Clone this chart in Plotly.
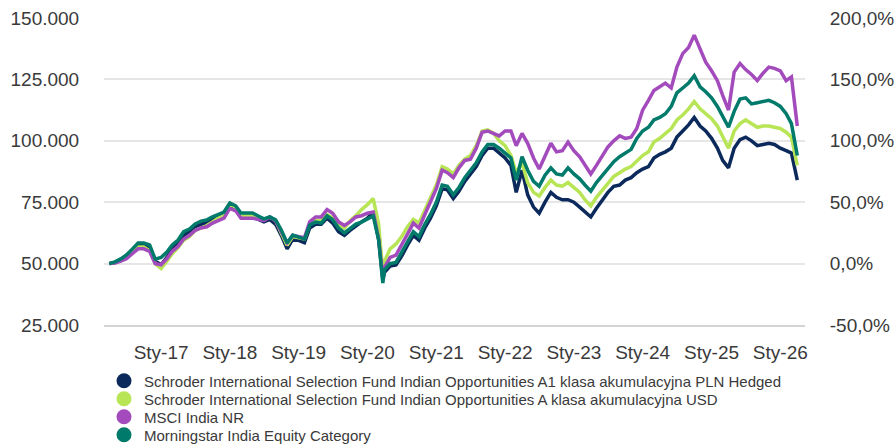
import pandas as pd
import plotly.graph_objects as go

# Monthly observations (values in thousands), Apr 2016 .. Apr 2026, plus the COVID low (2020-03-23)
months = list(pd.date_range("2016-04-01", "2026-04-01", freq="MS"))
crash_date = pd.Timestamp("2020-03-23")
dates = months[:48] + [crash_date] + months[48:]

tick_dates = [f"{y}-01-01" for y in range(2017, 2027)]
tick_text = [f"Sty-{str(y)[2:]}" for y in range(2017, 2027)]

names = [
    "Schroder International Selection Fund Indian Opportunities A1 klasa akumulacyjna PLN Hedged",
    "Schroder International Selection Fund Indian Opportunities A klasa akumulacyjna USD",
    "MSCI India NR",
    "Morningstar India Equity Category",
]
colors = ["#0b2a5b", "#b8e556", "#a34bbd", "#007a6a"]

navy_k = [
    50, 50.5, 51.5, 53, 55.5, 57.5, 57.5, 56, 51, 49.5,
    52.5, 56, 58.5, 61.5, 63, 65, 66, 66.5, 68, 69.5,
    70, 74, 72.5, 69.5, 69.5, 69, 68, 67, 68, 66,
    61.5, 56, 60, 59.5, 58.5, 64.5, 66, 66, 68.5, 66.5,
    63, 61.5, 63.5, 65.5, 67, 68.5, 71, 60,
    43.5,
    46.5, 49, 49.5, 53, 57.5, 61.5, 59.5, 64.5, 68.5, 73.5,
    80.5, 80, 76.5, 79.5, 83.5, 86.5, 89.5, 94, 97, 97,
    95, 93, 90, 79,
    88, 78, 73, 70.5, 75, 79, 77, 76, 76, 75,
    73, 71, 69, 72.5, 76, 79, 81.5, 82, 84, 85,
    87, 88.5, 89.5, 93, 94.5, 95.5, 97, 101.5, 104, 106.5,
    109.5, 106, 104, 101, 97, 92, 89, 97, 100.5, 101.5,
    100, 98, 98.5, 99, 98.5, 97, 96, 95, 84,
]
lime_k = [
    50, 50.3, 51.3, 52.8, 54.8, 56.8, 56.8, 55.3, 50, 48,
    51, 54, 56.5, 59.5, 61, 63.5, 64.5, 65.5, 67, 68.5,
    69.5, 74, 73, 69.5, 69.5, 69.5, 68.5, 68, 69, 67.5,
    62.5, 57.5, 61, 60.5, 60, 66, 67.5, 67.5, 70, 68.5,
    65.5, 64.5, 67.5, 69.5, 72, 74, 76.5, 66,
    46.5,
    51, 56, 58, 61, 65, 68, 66.5, 71.5, 77, 82,
    89.5, 88.5, 86.5, 90, 92.5, 94, 98, 104, 104.5, 103,
    100, 98, 94, 87,
    91, 83, 79, 77.5, 81, 84, 82, 81.5, 83, 81,
    79, 76, 73.5, 77, 80, 83, 85.5, 87, 88.5, 89.5,
    91.5, 94, 95.5, 99.5, 101, 103, 105, 108.5, 110.5, 113,
    116, 113, 111, 109, 106, 101.5, 97, 104, 107, 108.5,
    107, 105.5, 106, 106, 105.5, 105, 103.5, 101.5, 90,
]
msci_k = [
    50, 50.2, 51, 52, 54, 56, 56, 55, 50, 49.5,
    52, 55, 57, 60, 61.5, 63.5, 64.5, 65, 66.5, 67.5,
    68.5, 72.5, 71.5, 68.5, 68.5, 68.5, 68, 67.5, 69, 67.5,
    63, 58.5, 61.5, 61, 60.5, 67, 69, 69, 72, 70.5,
    67, 65.5, 67, 69, 69.5, 70.5, 71, 60,
    44.5,
    48.5, 52.5, 53.5, 57.5, 62, 66.5, 64.5, 70, 75, 80.5,
    88, 87, 85, 89, 92, 92.5, 97, 103.5, 104, 103,
    102, 104, 104, 98,
    103, 99, 93, 88.5, 94, 99, 95.5, 96, 99.5, 96,
    93.5, 90, 86.5, 90, 93.5, 97.5, 100, 102, 101, 101.5,
    105, 112.5, 116.5, 120.5, 122, 123.5, 121.5, 130, 135.5, 138,
    143, 137, 132, 128.5, 124.5, 118.5, 112.5, 128, 131.5, 129,
    127, 124.5, 127.5, 130, 129.5, 128.5, 124.5, 126, 106,
]
category_k = [
    50, 50.7, 51.9, 53.5, 55.9, 58.4, 58.4, 57.6, 51.8, 52.5,
    54.7, 57.6, 59.6, 63.0, 64.1, 66.1, 67.3, 67.8, 69.0, 70.2,
    71.0, 74.7, 73.5, 70.6, 70.6, 70.6, 69.4, 68.2, 69.0, 67.8,
    63.7, 58.4, 61.6, 60.8, 60.0, 65.7, 66.9, 66.5, 69.4, 67.8,
    64.5, 62.5, 64.5, 66.1, 66.9, 68.2, 69.4, 59.6,
    42.1,
    47.5, 50, 50.5, 54.5, 59, 63, 61, 66, 70, 75,
    82, 81.5, 78, 81, 85, 88, 91, 95.5, 98.5, 98.5,
    97, 95, 93, 84,
    93.5, 88, 83.5, 81.5, 86, 89, 86.5, 86, 89, 86.5,
    84.5, 82, 79.5, 83, 86, 88.5, 91.5, 93.5, 95, 96.5,
    101, 104, 105.5, 108.5, 109.5, 111, 114, 119.5, 121.5, 123.5,
    126.5, 122, 120, 117.5, 114, 110, 105.5, 112, 117, 117.5,
    115, 115.5, 116, 116.5, 115.5, 114, 111, 107, 94,
]
series_k = [navy_k, lime_k, msci_k, category_k]

left_ticks = [25000, 50000, 75000, 100000, 125000, 150000]
right_ticks = [-0.5, 0.0, 0.5, 1.0, 1.5, 2.0]
right_text = ["-50,0%", "0,0%", "50,0%", "100,0%", "150,0%", "200,0%"]

FONT = "Liberation Sans, Arial, sans-serif"
TXT = "#3a3a3a"

W, H = 895, 445
ML, MR, MT, MB = 104, 90, 18, 120
plot_h = H - MT - MB
legend_rows_px = [381, 399, 417, 435]  # centre of each legend row, pixels from top
legend_ids = ["legend", "legend2", "legend3", "legend4"]

fig = go.Figure()
for name, col, vals in zip(names, colors, series_k):
    fig.add_trace(go.Scatter(
        x=dates, y=[v * 1000 for v in vals], mode="lines", name=name,
        line=dict(color=col, width=3.5), showlegend=False,
    ))
# legend entries as round dots, one legend per row for tight spacing
for name, col, lid in zip(names, colors, legend_ids):
    fig.add_trace(go.Scatter(
        x=[None], y=[None], mode="markers", name=name, legend=lid,
        marker=dict(color=col, size=15, symbol="circle"),
    ))
# invisible trace carrying the right (percentage) axis
fig.add_trace(go.Scatter(
    x=dates, y=[v * 1000 / 50000 - 1 for v in navy_k], yaxis="y2",
    mode="lines", line=dict(width=0), opacity=0, showlegend=False, hoverinfo="skip",
))

legend_common = dict(
    x=0.0, xanchor="left", yanchor="middle", orientation="v",
    font=dict(size=15, color=TXT), itemsizing="trace",
    bgcolor="rgba(0,0,0,0)", itemwidth=30,
)
legend_layout = {}
for lid, py in zip(legend_ids, legend_rows_px):
    legend_layout[lid] = dict(legend_common, y=(H - MB - py) / plot_h)

fig.update_layout(
    width=W, height=H,
    margin=dict(l=ML, r=MR, t=MT, b=MB, autoexpand=False),
    paper_bgcolor="white", plot_bgcolor="white",
    separators=",.",
    font=dict(family=FONT, color=TXT, size=14),
    showlegend=True,
    xaxis=dict(
        type="date", range=["2016-03-04", "2026-05-12"],
        tickvals=tick_dates, ticktext=tick_text,
        showgrid=False, zeroline=False,
        showline=True, linecolor="#d4d4d4", linewidth=2,
        ticks="outside", ticklen=0, ticklabelstandoff=9,
        ticklabeloverflow="allow",
        tickfont=dict(size=19, color=TXT),
    ),
    yaxis=dict(
        range=[25000, 150000], tickvals=left_ticks, tickformat=",.0f",
        showgrid=True, gridcolor="#e6e6e6", gridwidth=2, zeroline=False,
        ticks="outside", ticklen=0, ticklabelstandoff=20,
        ticklabeloverflow="allow",
        tickfont=dict(size=19, color=TXT),
    ),
    yaxis2=dict(
        range=[-0.5, 2.0], tickvals=right_ticks, ticktext=right_text,
        overlaying="y", side="right", showgrid=False, zeroline=False,
        ticks="outside", ticklen=0, ticklabelstandoff=20,
        ticklabeloverflow="allow",
        tickfont=dict(size=19, color=TXT),
    ),
    **legend_layout,
)

# remove the browser's default page margin so the figure fills the window exactly
fig.write_html(
    "out.html",
    config={"displayModeBar": False},
    post_script="document.body.style.margin='0';document.body.style.overflow='hidden';",
)
